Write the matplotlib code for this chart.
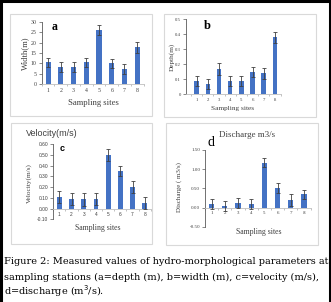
import matplotlib
matplotlib.use("Agg")
import matplotlib.pyplot as plt
from matplotlib.patches import Rectangle
from matplotlib.lines import Line2D

# data
sites = ["1", "2", "3", "4", "5", "6", "7", "8"]
width_m = [10.5, 8.2, 8.2, 10.5, 26.0, 10.0, 7.2, 17.8]
width_err = [2.3, 2.3, 2.3, 2.3, 2.2, 2.3, 2.3, 2.7]
depth_m = [0.09, 0.07, 0.17, 0.09, 0.09, 0.15, 0.14, 0.38]
depth_err = [0.035, 0.035, 0.04, 0.035, 0.035, 0.035, 0.035, 0.035]
velocity = [0.11, 0.09, 0.085, 0.09, 0.50, 0.35, 0.20, 0.055]
velocity_err = [0.055, 0.055, 0.06, 0.055, 0.055, 0.05, 0.055, 0.055]
discharge = [0.10, 0.05, 0.11, 0.08, 1.17, 0.51, 0.19, 0.34]
discharge_err = [0.13, 0.13, 0.13, 0.13, 0.12, 0.14, 0.15, 0.13]

W, H = 331, 302
BAR = "#4472C4"
SERIF = ["Liberation Serif", "DejaVu Serif"]
SANS = ["Liberation Sans", "DejaVu Sans"]

fig = plt.figure(figsize=(W / 100, H / 100), dpi=100)


def px_rect(x0, y0, x1, y1):
    # pixel box -> figure fraction [left, bottom, width, height]
    return [x0 / W, 1 - y1 / H, (x1 - x0) / W, (y1 - y0) / H]


def ftext(x, y, s, **kw):
    kw.setdefault("ha", "center")
    kw.setdefault("va", "center")
    return fig.text(x / W, 1 - y / H, s, **kw)


# light grey chart-area boxes (behind the axes)
for box in [(10, 14, 152, 116), (164, 14, 316, 117),
            (10.5, 122.5, 152, 244), (166, 123.5, 317.5, 244.5)]:
    l, b, w, h = px_rect(*box)
    fig.patches.append(Rectangle((l, b), w, h, transform=fig.transFigure,
                                 facecolor="white", edgecolor="#d9d9d9",
                                 lw=0.8, zorder=-5))

# black frame (left, top, right)
for xs, ys in [([1.2, 1.2], [0, H]), ([0, W], [1.2, 1.2]), ([329.5, 329.5], [0, H])]:
    fig.lines.append(Line2D([x / W for x in xs], [1 - y / H for y in ys],
                            transform=fig.transFigure, color="black", lw=2.2))


def bar_panel(rect, vals, errs, ylim, yticks, ylabels, xlim, family,
              tick_fs, zero_spine=False):
    ax = fig.add_axes(px_rect(*rect))
    # move the category axis to y=0 first, it resets the ticks
    if zero_spine:
        ax.spines["bottom"].set_position(("data", 0))
    x = list(range(1, len(sites) + 1))
    ax.bar(x, vals, width=0.4, color=BAR, zorder=2)
    ax.errorbar(x, vals, yerr=errs, fmt="none", ecolor="#404040",
                elinewidth=0.6, capsize=1.6, capthick=0.6, zorder=3)
    ax.set_xlim(*xlim)
    ax.set_ylim(*ylim)
    ax.set_yticks(yticks)
    ax.set_yticklabels(ylabels, fontfamily=family, fontsize=tick_fs, color="#404040")
    ax.set_xticks(x)
    ax.set_xticklabels(sites, fontfamily=family, fontsize=tick_fs, color="#404040")
    ax.set_xticks([i + 0.5 for i in range(0, len(sites) + 1)], minor=True)
    ax.tick_params(axis="x", which="major", length=0, pad=2.5)
    ax.tick_params(axis="x", which="minor", length=1.5, width=0.5, color="#a6a6a6")
    ax.tick_params(axis="y", length=2, width=0.5, pad=1.5, color="#595959")
    ax.patch.set_alpha(0)
    for s in ["top", "right"]:
        ax.spines[s].set_visible(False)
    ax.spines["left"].set_color("#595959")
    ax.spines["left"].set_linewidth(0.6)
    ax.spines["bottom"].set_color("#bfbfbf")
    ax.spines["bottom"].set_linewidth(0.6)
    return ax


# a: width
bar_panel((41.7, 21.7, 143.6, 84.3), width_m, width_err, (0, 30),
          [0, 5, 10, 15, 20, 25, 30], ["0", "5", "10", "15", "20", "25", "30"],
          (0.5, 8.5), SERIF, 4.2)
ftext(25, 53, "Width(m)", rotation=90, fontfamily=SERIF, fontsize=6.2, color="#404040")
ftext(93, 103, "Sampling sites", fontfamily=SERIF, fontsize=6.2, color="#404040")
ftext(55, 27, "a", fontfamily=SERIF, fontsize=8.5, fontweight="bold")

# b: depth
bar_panel((185.7, 19.3, 280.5, 94.3), depth_m, depth_err, (0, 0.5),
          [0, 0.1, 0.2, 0.3, 0.4, 0.5], ["0", "0.1", "0.2", "0.3", "0.4", "0.5"],
          (0.02, 8.5), SERIF, 3.4)
ftext(171.7, 57, "Depth(m)", rotation=90, fontfamily=SERIF, fontsize=5.2, color="#404040")
ftext(233, 108.3, "Sampling sites", fontfamily=SERIF, fontsize=5.2, color="#404040")
ftext(207.7, 26, "b", fontfamily=SERIF, fontsize=9, fontweight="bold")

# c: velocity
bar_panel((53.3, 144.3, 150.8, 219.3), velocity, velocity_err, (-0.10, 0.60),
          [-0.1, 0, 0.1, 0.2, 0.3, 0.4, 0.5, 0.6],
          ["-0.10", "0.00", "0.10", "0.20", "0.30", "0.40", "0.50", "0.60"],
          (0.5, 8.5), SANS, 3.5, zero_spine=True)
ftext(52, 134, "Velocity(m/s)", fontfamily=SANS, fontsize=6.5, color="#404040")
ftext(29, 183, "Velocity(m/s)", rotation=90, fontfamily=SERIF, fontsize=5.2, color="#404040")
ftext(98, 228.5, "Sampling sites", fontfamily=SERIF, fontsize=5.6, color="#404040")
ftext(61.7, 148.3, "c", fontfamily=SANS, fontsize=6.5, fontweight="bold")

# d: discharge
bar_panel((205, 150, 310.6, 226.7), discharge, discharge_err, (-0.5, 1.5),
          [-0.5, 0, 0.5, 1.0, 1.5], ["-0.50", "0.00", "0.50", "1.00", "1.50"],
          (0.5, 8.5), SERIF, 3.6, zero_spine=True)
ftext(247.5, 135, "Discharge m3/s", fontfamily=SERIF, fontsize=6.5, color="#404040")
ftext(179, 186.7, "Discharge ( m3/s)", rotation=90, fontfamily=SERIF, fontsize=5.0, color="#404040")
ftext(258.5, 232, "Sampling sites", fontfamily=SERIF, fontsize=5.6, color="#404040")
ftext(210.7, 142.7, "d", fontfamily=SERIF, fontsize=10)

# caption
cap_kw = dict(ha="left", fontfamily=["DejaVu Serif"], fontsize=7.0, color="black")
ftext(3.5, 262, "Figure 2: Measured values of hydro-morphological parameters at", **cap_kw)
ftext(3.5, 277, "sampling stations (a=depth (m), b=width (m), c=velocity (m/s),", **cap_kw)
ftext(3.5, 291, "d=discharge (m$^3$/s).", **cap_kw)

fig.savefig("out.png", dpi=100)
plt.close(fig)
